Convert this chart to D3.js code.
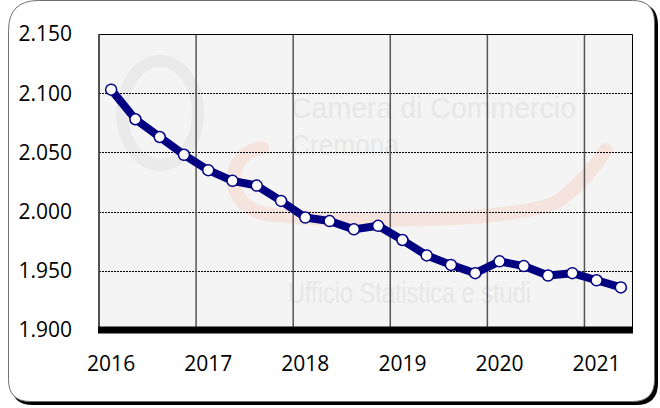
<!DOCTYPE html>
<html>
<head>
<meta charset="utf-8">
<script src="https://cdn.jsdelivr.net/npm/d3@7"></script>
<style>
  html, body { margin: 0; padding: 0; background: #fff; }
  svg { display: block; }
  .tick-label { font-family: "Open Sans", sans-serif; font-size: 21px; fill: #000; }
  .wm { font-family: "Liberation Sans Narrow", "Liberation Sans", sans-serif; fill: #e7e7e7; }
</style>
</head>
<body>
<svg id="chart" width="660" height="408"></svg>
<script>
// quarterly data, 2016 Q1 .. 2021 Q2
const years = [2016, 2017, 2018, 2019, 2020, 2021];
const quarters = ['T1', 'T2', 'T3', 'T4'];
const periods = years.flatMap(y => quarters.map(q => `${y}-${q}`)).slice(0, 22);
const values = [2103, 2078, 2063, 2048, 2035, 2026, 2022, 2009, 1995, 1992, 1985, 1988,
                1976, 1963, 1955, 1948, 1958, 1954, 1946, 1948, 1942, 1936];
const yTicks = [1900, 1950, 2000, 2050, 2100, 2150];

const svg = d3.select('#chart');
const margin = { top: 34, right: 27, bottom: 78, left: 99 };
const W = 660, H = 408;

const it = d3.formatLocale({ decimal: ',', thousands: '.', grouping: [3], currency: ['€', ''] });
const fmt = it.format(',d');

const x = d3.scaleBand().domain(periods).range([margin.left, W - margin.right]).padding(0);
const y = d3.scaleLinear().domain([1900, 2150]).range([330, margin.top]);

// outer frame with shadow
const framePath = (x0, y0, w, h) => {
    const p = d3.path();
    const r1 = 30, r2 = 22;
    p.moveTo(x0 + r1, y0);
    p.lineTo(x0 + w - r2, y0);
    p.quadraticCurveTo(x0 + w, y0, x0 + w, y0 + r2);
    p.lineTo(x0 + w, y0 + h - r2);
    p.quadraticCurveTo(x0 + w, y0 + h, x0 + w - r2, y0 + h);
    p.lineTo(x0 + r2, y0 + h);
    p.quadraticCurveTo(x0, y0 + h, x0, y0 + h - r2);
    p.lineTo(x0, y0 + r1);
    p.quadraticCurveTo(x0, y0, x0 + r1, y0);
    p.closePath();
    return p.toString();
};
svg.append('path').attr('d', framePath(11, 3, 647, 402)).attr('fill', '#000');
svg.append('path').attr('d', framePath(8.5, 0.5, 646, 401)).attr('fill', '#fff')
    .attr('stroke', '#6e6e6e').attr('stroke-width', 1);

// plot background
const x0 = margin.left, x1 = W - margin.right;
svg.append('rect')
    .attr('x', x0).attr('y', y(2150))
    .attr('width', x1 - x0).attr('height', y(1900) - y(2150))
    .attr('fill', '#f4f4f4');

// watermark
const wm = svg.append('g');
wm.append('ellipse').attr('cx', 160).attr('cy', 113).attr('rx', 38).attr('ry', 52)
    .attr('fill', 'none').attr('stroke', '#eaeaea').attr('stroke-width', 12);
wm.append('path')
    .attr('d', 'M262,148 C228,152 222,198 258,212 C290,222 520,226 560,200 C580,185 596,165 606,150')
    .attr('fill', 'none').attr('stroke', '#f5e4de').attr('stroke-width', 14).attr('stroke-linecap', 'round');
wm.append('text').attr('class', 'wm').attr('x', 291).attr('y', 118)
    .attr('font-size', 30).attr('textLength', 285).attr('lengthAdjust', 'spacingAndGlyphs')
    .text('Camera di Commercio');
wm.append('text').attr('class', 'wm').attr('x', 291).attr('y', 155)
    .attr('font-size', 30).attr('textLength', 108).attr('lengthAdjust', 'spacingAndGlyphs')
    .text('Cremona');
wm.append('text').attr('class', 'wm').attr('x', 288).attr('y', 303)
    .attr('font-size', 30).attr('textLength', 243).attr('lengthAdjust', 'spacingAndGlyphs')
    .text('Ufficio Statistica e studi');

// horizontal dotted gridlines
svg.append('g').selectAll('line')
    .data(yTicks.filter(d => d > 1900 && d < 2150))
    .join('line')
    .attr('x1', x0).attr('x2', x1)
    .attr('y1', d => Math.round(y(d)) + 0.5).attr('y2', d => Math.round(y(d)) + 0.5)
    .attr('stroke', '#000').attr('stroke-width', 1).attr('stroke-dasharray', '2,1');

// vertical year gridlines (between Q4 and Q1)
svg.append('g').selectAll('line')
    .data(periods.filter((d, i) => i > 0 && i % 4 === 0))
    .join('line')
    .attr('x1', d => x(d)).attr('x2', d => x(d))
    .attr('y1', y(2150)).attr('y2', y(1900))
    .attr('stroke', '#555').attr('stroke-width', 1.5);

// plot border
svg.append('path')
    .attr('d', `M${x0},${y(1900)}V${y(2150) + 0.5}H${x1 - 0.5}V${y(1900)}`)
    .attr('fill', 'none').attr('stroke', '#000').attr('stroke-width', 1);
svg.append('line')
    .attr('x1', x0).attr('x2', x0).attr('y1', y(2150)).attr('y2', y(1900))
    .attr('stroke', '#444').attr('stroke-width', 1.5);

// thick baseline
svg.append('line')
    .attr('x1', x0 - 1).attr('x2', x1)
    .attr('y1', y(1900)).attr('y2', y(1900))
    .attr('stroke', '#000').attr('stroke-width', 7);

// y axis labels
svg.append('g').selectAll('text')
    .data(yTicks)
    .join('text')
    .attr('class', 'tick-label')
    .attr('x', 72).attr('y', d => y(d))
    .attr('text-anchor', 'end').attr('dy', '0.35em')
    .text(d => fmt(d));

// x axis labels (first quarter of each year)
svg.append('g').selectAll('text')
    .data(periods.filter((d, i) => i % 4 === 0))
    .join('text')
    .attr('class', 'tick-label')
    .attr('x', d => x(d) + x.bandwidth() / 2).attr('y', 371)
    .attr('text-anchor', 'middle')
    .text(d => d.split('-')[0]);

// series
const pts = periods.map((p, i) => ({ p, v: values[i] }));
svg.append('path')
    .datum(pts)
    .attr('d', d3.line().x(d => x(d.p) + x.bandwidth() / 2).y(d => y(d.v)))
    .attr('fill', 'none').attr('stroke', '#000080').attr('stroke-width', 8)
    .attr('stroke-linejoin', 'round');

svg.append('g').selectAll('circle')
    .data(pts)
    .join('circle')
    .attr('cx', d => x(d.p) + x.bandwidth() / 2).attr('cy', d => y(d.v))
    .attr('r', 5.5)
    .attr('fill', '#fff').attr('stroke', '#000080').attr('stroke-width', 1.5);
</script>
</body>
</html>
